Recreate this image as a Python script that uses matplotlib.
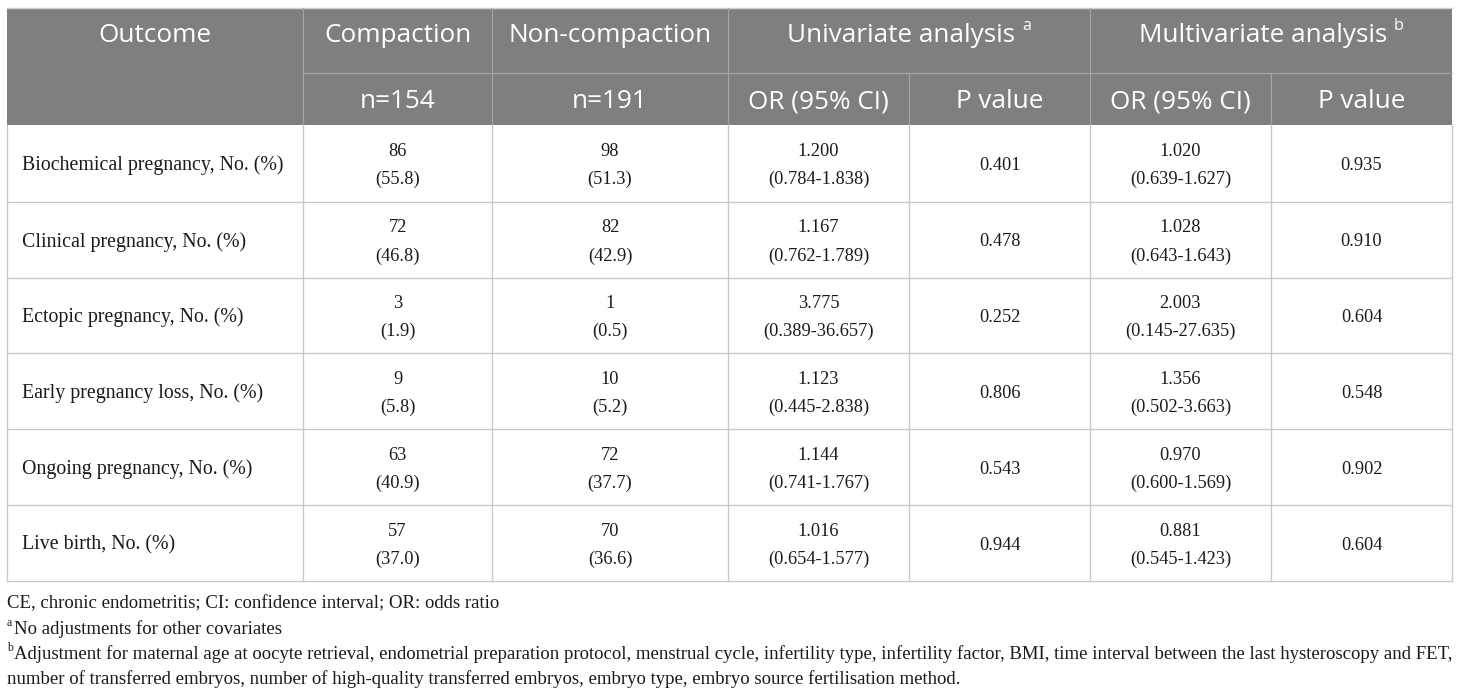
import matplotlib
matplotlib.use("Agg")
import matplotlib.pyplot as plt

outcomes = ["Biochemical pregnancy, No. (%)", "Clinical pregnancy, No. (%)",
            "Ectopic pregnancy, No. (%)", "Early pregnancy loss, No. (%)",
            "Ongoing pregnancy, No. (%)", "Live birth, No. (%)"]
comp_n = ["86", "72", "3", "9", "63", "57"]
comp_pct = ["55.8", "46.8", "1.9", "5.8", "40.9", "37.0"]
non_n = ["98", "82", "1", "10", "72", "70"]
non_pct = ["51.3", "42.9", "0.5", "5.2", "37.7", "36.6"]
uni_or = ["1.200", "1.167", "3.775", "1.123", "1.144", "1.016"]
uni_ci = ["0.784-1.838", "0.762-1.789", "0.389-36.657", "0.445-2.838", "0.741-1.767", "0.654-1.577"]
uni_p = ["0.401", "0.478", "0.252", "0.806", "0.543", "0.944"]
multi_or = ["1.020", "1.028", "2.003", "1.356", "0.970", "0.881"]
multi_ci = ["0.639-1.627", "0.643-1.643", "0.145-27.635", "0.502-3.663", "0.600-1.569", "0.545-1.423"]
multi_p = ["0.935", "0.910", "0.604", "0.548", "0.902", "0.604"]

header1 = ["Outcome", "Compaction", "Non-compaction"]
group_headers = [("Univariate analysis", "a"), ("Multivariate analysis", "b")]
header2 = ["n=154", "n=191", "OR (95% CI)", "P value", "OR (95% CI)", "P value"]

footnotes = [
    ("", "CE, chronic endometritis; CI: confidence interval; OR: odds ratio"),
    ("a", "No adjustments for other covariates"),
    ("b", "Adjustment for maternal age at oocyte retrieval, endometrial preparation protocol, menstrual cycle, infertility type, infertility factor, BMI, time interval between the last hysteroscopy and FET,"),
    ("", "number of transferred embryos, number of high-quality transferred embryos, embryo type, embryo source fertilisation method."),
]

W, H = 1460, 693
fig = plt.figure(figsize=(W / 100, H / 100), dpi=100)
ax = fig.add_axes([0, 0, 1, 1])
ax.set_xlim(0, W)
ax.set_ylim(H, 0)
ax.axis("off")

cols = [7, 303, 492, 728, 909, 1090, 1271, 1452]
y_top, y_mid, y_head = 8, 73, 125
row_lines = [125, 202, 278, 353, 429, 505, 581]

HEAD_BG = "#7f7f7f"
HEAD_LINE = "#a6a6a6"
GRID = "#c9c9c9"
TXT = "#1a1a1a"
HFONT = "Open Sans"
BFONT = "Liberation Serif"
hsize = 18.8
lsize = 14.3
nsize = 13.2
fsize = 13.5
dy = 2

# header background
ax.add_patch(plt.Rectangle((cols[0], y_top), cols[-1] - cols[0], y_head - y_top,
                           facecolor=HEAD_BG, edgecolor="none", zorder=1))
# header lines
ax.plot([cols[0], cols[-1]], [y_top, y_top], color="#d0d0d0", lw=1, zorder=2)
ax.plot([cols[1], cols[-1]], [y_mid, y_mid], color=HEAD_LINE, lw=0.8, zorder=2)
for i, x in enumerate(cols[1:-1], start=1):
    if i in (4, 6):
        ax.plot([x, x], [y_mid, y_head], color=HEAD_LINE, lw=0.8, zorder=2)
    else:
        ax.plot([x, x], [y_top, y_head], color=HEAD_LINE, lw=0.8, zorder=2)

# body lines
for y in row_lines[1:]:
    ax.plot([cols[0], cols[-1]], [y, y], color=GRID, lw=1, zorder=2)
for x in cols:
    ax.plot([x, x], [y_head, row_lines[-1]], color=GRID, lw=1, zorder=2)

# header text
hy1 = 34 + dy
hy2 = 100 + dy
for i, t in enumerate(header1):
    cx = (cols[i] + cols[i + 1]) / 2
    ax.text(cx, hy1, t, ha="center", va="center", color="white",
            fontsize=hsize, family=HFONT, zorder=3)

fig.canvas.draw()
renderer = fig.canvas.get_renderer()
for k, (t, sup) in enumerate(group_headers):
    c0, c1 = cols[3 + 2 * k], cols[5 + 2 * k]
    cx = (c0 + c1) / 2
    tmp = ax.text(0, hy1, t + " ", fontsize=hsize, family=HFONT)
    tmps = ax.text(0, hy1, sup, fontsize=hsize * 0.62, family=HFONT)
    wt = tmp.get_window_extent(renderer).width
    ws = tmps.get_window_extent(renderer).width
    tmp.remove(); tmps.remove()
    x0 = cx - (wt + ws) / 2
    ax.text(x0, hy1, t, ha="left", va="center", color="white",
            fontsize=hsize, family=HFONT, zorder=3)
    ax.text(x0 + wt, hy1 - 10, sup, ha="left", va="center", color="white",
            fontsize=hsize * 0.62, family=HFONT, zorder=3)

for i, t in enumerate(header2):
    cx = (cols[i + 1] + cols[i + 2]) / 2
    ax.text(cx, hy2, t, ha="center", va="center", color="white",
            fontsize=hsize, family=HFONT, zorder=3)

# body text
for r in range(len(outcomes)):
    yc = (row_lines[r] + row_lines[r + 1]) / 2 + dy
    y1, y2 = yc - 14, yc + 14
    ax.text(22, yc, outcomes[r], ha="left", va="center", fontsize=lsize,
            family=BFONT, color=TXT, zorder=3)
    pairs = [(comp_n[r], "(" + comp_pct[r] + ")"), (non_n[r], "(" + non_pct[r] + ")"),
             (uni_or[r], "(" + uni_ci[r] + ")"), None,
             (multi_or[r], "(" + multi_ci[r] + ")"), None]
    singles = [None, None, None, uni_p[r], None, multi_p[r]]
    for j in range(6):
        cx = (cols[j + 1] + cols[j + 2]) / 2
        if pairs[j] is not None:
            ax.text(cx, y1, pairs[j][0], ha="center", va="center", fontsize=nsize,
                    family=BFONT, color=TXT, zorder=3)
            ax.text(cx, y2, pairs[j][1], ha="center", va="center", fontsize=nsize,
                    family=BFONT, color=TXT, zorder=3)
        else:
            ax.text(cx, yc, singles[j], ha="center", va="center", fontsize=nsize,
                    family=BFONT, color=TXT, zorder=3)

# footnotes
fy = [602 + dy, 627 + dy, 652 + dy, 677 + dy]
for (sup, t), y in zip(footnotes, fy):
    x = 7
    if sup:
        ax.text(x, y - 6, sup, ha="left", va="center", fontsize=fsize * 0.62,
                family=BFONT, color=TXT)
        x = 14
    ax.text(x, y, t, ha="left", va="center", fontsize=fsize,
            family=BFONT, color=TXT)

fig.savefig("out.png", dpi=100)
